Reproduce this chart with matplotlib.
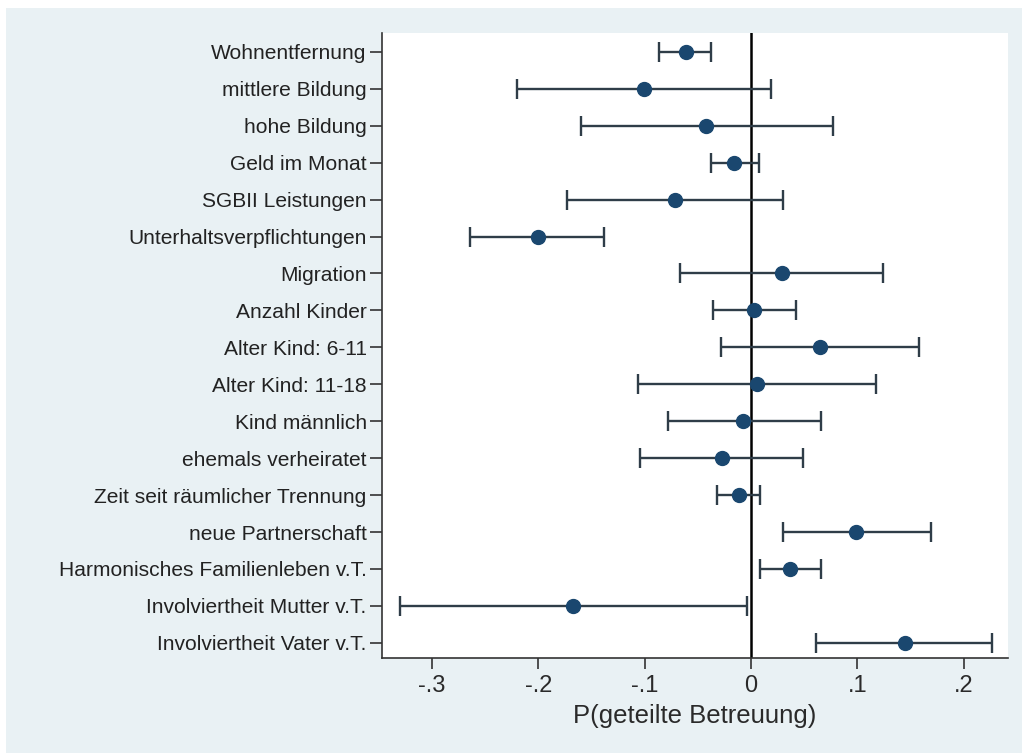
import matplotlib
matplotlib.use("Agg")
import matplotlib.pyplot as plt
from matplotlib.patches import Rectangle
import numpy as np

plt.rcParams["font.family"] = ["Liberation Sans", "DejaVu Sans"]

labels = [
    "Wohnentfernung",
    "mittlere Bildung",
    "hohe Bildung",
    "Geld im Monat",
    "SGBII Leistungen",
    "Unterhaltsverpflichtungen",
    "Migration",
    "Anzahl Kinder",
    "Alter Kind: 6-11",
    "Alter Kind: 11-18",
    "Kind männlich",
    "ehemals verheiratet",
    "Zeit seit räumlicher Trennung",
    "neue Partnerschaft",
    "Harmonisches Familienleben v.T.",
    "Involviertheit Mutter v.T.",
    "Involviertheit Vater v.T.",
]
coef = [-0.061, -0.101, -0.042, -0.016, -0.071, -0.200, 0.029, 0.003, 0.065,
        0.006, -0.007, -0.027, -0.011, 0.099, 0.037, -0.167, 0.145]
ci_low = [-0.086, -0.220, -0.160, -0.038, -0.173, -0.264, -0.067, -0.036, -0.028,
          -0.106, -0.078, -0.104, -0.032, 0.030, 0.009, -0.330, 0.061]
ci_high = [-0.038, 0.019, 0.077, 0.008, 0.030, -0.138, 0.124, 0.042, 0.158,
           0.118, 0.066, 0.049, 0.009, 0.169, 0.066, -0.004, 0.227]
xticks = [-0.3, -0.2, -0.1, 0, 0.1, 0.2]
xticklabels = ["-.3", "-.2", "-.1", "0", ".1", ".2"]

fig = plt.figure(figsize=(10.31, 7.55), dpi=100, facecolor="white")
# light bluish-gray graph region behind the white plot area
fig.patches.append(Rectangle((6 / 1031, 2 / 755), 1016 / 1031, 745 / 755,
                             transform=fig.transFigure, facecolor="#e9f1f4",
                             edgecolor="none", zorder=-5))
ax = fig.add_axes([382 / 1031, 1 - 658 / 755, 626 / 1031, 625 / 755])
ax.set_facecolor("white")

y = np.arange(1, len(labels) + 1)
coef = np.array(coef)
err = [coef - np.array(ci_low), np.array(ci_high) - coef]
ax.axvline(0, color="black", lw=1.8, zorder=1)
ax.errorbar(coef, y, xerr=err, fmt="o", color="#1a476f", ms=10,
            ecolor="#2f3d48", elinewidth=1.7, capsize=7, capthick=1.7, zorder=3)

ax.set_ylim(17.41, 0.49)
ax.set_xlim(-0.347, 0.2418)
ax.set_yticks(y)
ax.set_yticklabels(labels, fontsize=15.1, color="#222222")
ax.set_xticks(xticks)
ax.set_xticklabels(xticklabels, fontsize=17, color="#2a2a2a")
ax.tick_params(axis="y", length=9, width=1.2, pad=2, color="#333333")
ax.tick_params(axis="x", length=8, width=1.2, pad=4, color="#333333")
ax.set_xlabel("P(geteilte Betreuung)", fontsize=18.5, color="#2a2a2a", labelpad=5)

for side in ["top", "right"]:
    ax.spines[side].set_visible(False)
for side in ["left", "bottom"]:
    ax.spines[side].set_color("#333333")
    ax.spines[side].set_linewidth(1.2)

fig.savefig("out.png", dpi=100, facecolor=fig.get_facecolor())
